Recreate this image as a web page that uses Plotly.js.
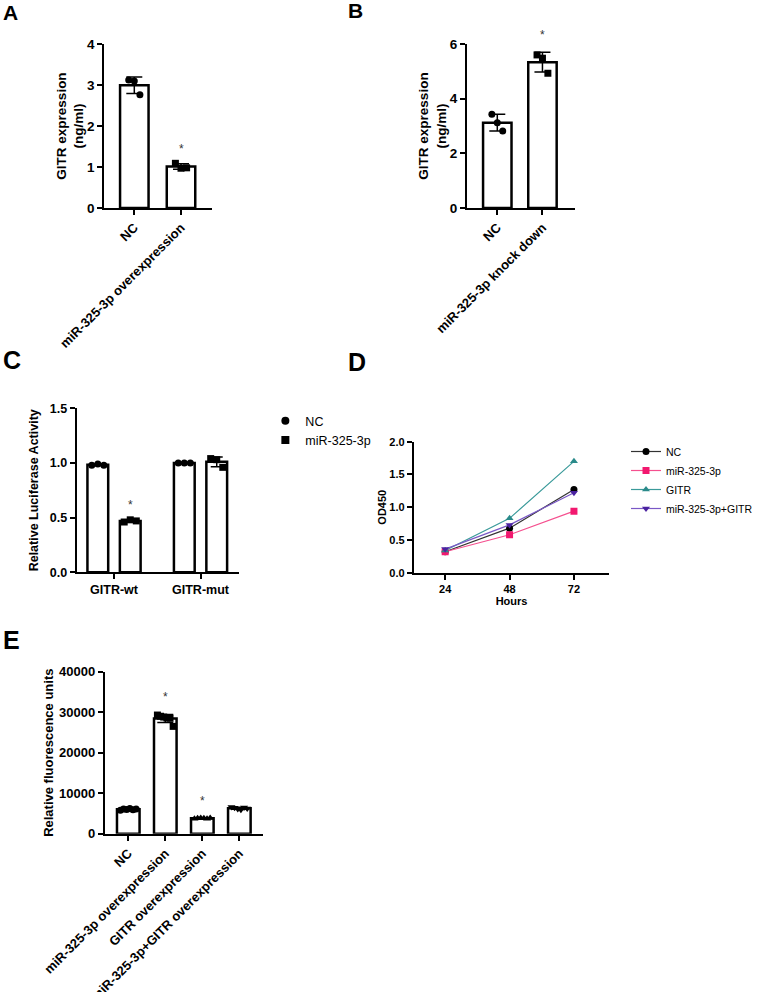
<!DOCTYPE html>
<html>
<head>
<meta charset="utf-8">
<script src="https://cdn.plot.ly/plotly-3.0.1.min.js"></script>
<style>html,body{margin:0;padding:0;background:#fff;}#chart{width:758px;height:992px;}</style>
</head>
<body>
<div id="chart"></div>
<script>
// ---------------- DATA ----------------
// Panel A
const catA = ['NC', 'miR-325-3p overexpression'];
const ptsA_NC = [3.12, 3.10, 2.76];
const ptsA_OE = [1.09, 0.97, 0.98];
const sigA = [false, true];
// Panel B
const catB = ['NC', 'miR-325-3p knock down'];
const ptsB_NC = [3.43, 3.12, 2.82];
const ptsB_KD = [5.60, 5.48, 4.93];
const sigB = [false, true];
// Panel C
const catC = ['GITR-wt', 'GITR-mut'];
const seriesC = ['NC', 'miR-325-3p'];
const ptsC_NC = [[0.98, 0.99, 0.98], [1.00, 1.00, 1.00]];
const ptsC_miR = [[0.46, 0.48, 0.47], [1.04, 1.03, 0.96]];
const sigC_miR = [true, false];
// Panel D
const hours = [24, 48, 72];
const seriesD = ['NC', 'miR-325-3p', 'GITR', 'miR-325-3p+GITR'];
const odNC = [0.32, 0.68, 1.27];
const odMiR = [0.32, 0.58, 0.94];
const odGITR = [0.34, 0.83, 1.70];
const odCombo = [0.36, 0.73, 1.22];
// Panel E
const catE = ['NC', 'miR-325-3p overexpression', 'GITR overexpression', 'miR-325-3p+GITR overexpression'];
const ptsE_NC = [5800, 6100, 6000, 6200, 5900, 6100];
const ptsE_miR = [29300, 29000, 28800, 28600, 28500, 26500];
const ptsE_GITR = [3700, 3800, 3900, 3800, 3700, 3900];
const ptsE_combo = [6600, 6400, 6100, 5900, 6500, 6200];
const sigE = [false, true, true, false];

// ---------------- HELPERS ----------------
const FONT = 'Liberation Sans, Arial, Helvetica, sans-serif';
const mean = a => a.reduce((s, v) => s + v, 0) / a.length;
const sd = a => { const m = mean(a); return Math.sqrt(a.reduce((s, v) => s + (v - m) * (v - m), 0) / (a.length - 1)); };
const W = 758, H = 992;
const fx = p => p / W;
const fy = p => 1 - p / H;

const traces = [];
const annotations = [];

function axisBase(size) {
  return {
    showline: true, linecolor: '#000', linewidth: 2,
    ticks: 'outside', ticklen: 5, tickwidth: 2, tickcolor: '#000',
    showgrid: false, zeroline: false, automargin: false, fixedrange: true,
    tickfont: {family: FONT, size: size, color: '#000', weight: 'bold'}
  };
}

// bars with points, one bar per position
function barGroup(xa, ya, positions, groups, symbols, barW, spread, msize, capw, sig, starShift, starSize) {
  const means = groups.map(mean), sds = groups.map(sd);
  traces.push({
    type: 'bar', x: positions, y: means, width: barW, xaxis: xa, yaxis: ya,
    marker: {color: '#fff', line: {color: '#000', width: 2.5}},
    error_y: {type: 'data', array: sds, visible: true, color: '#000', thickness: 1.5, width: capw},
    showlegend: false, hoverinfo: 'skip'
  });
  groups.forEach((g, i) => {
    traces.push({
      type: 'scatter', mode: 'markers', xaxis: xa, yaxis: ya,
      x: g.map((_, j) => positions[i] + (j - (g.length - 1) / 2) * spread), y: g,
      marker: {symbol: symbols[i], size: msize, color: '#000'},
      showlegend: false, hoverinfo: 'skip', cliponaxis: false
    });
    if (sig[i]) {
      annotations.push({xref: xa, yref: ya, x: positions[i], y: means[i] + sds[i], yanchor: 'bottom',
        yshift: starShift, text: '*', showarrow: false, font: {family: FONT, size: starSize, color: '#333'}});
    }
  });
}

// ---------------- PANEL A ----------------
barGroup('x', 'y', [0, 1], [ptsA_NC, ptsA_OE], ['circle', 'square'], 0.61, 0.12, 7, 8, sigA, 6, 12);
// ---------------- PANEL B ----------------
barGroup('x2', 'y2', [0, 1], [ptsB_NC, ptsB_KD], ['circle', 'square'], 0.63, 0.12, 7, 8, sigB, 8, 12);
// ---------------- PANEL C ----------------
const cOff = 0.1875;
barGroup('x3', 'y3', catC.map((_, i) => i - cOff), ptsC_NC, ['circle', 'circle'], 0.24, 0.07, 7, 6, [false, false], 6, 12);
barGroup('x3', 'y3', catC.map((_, i) => i + cOff), ptsC_miR, ['square', 'square'], 0.24, 0.07, 7, 6, sigC_miR, 6, 12);
// legend entries for C
[['circle', seriesC[0]], ['square', seriesC[1]]].forEach(([sym, name]) => {
  traces.push({type: 'scatter', mode: 'markers', x: [null], y: [null], xaxis: 'x3', yaxis: 'y3', name: name,
    marker: {symbol: sym, size: 8, color: '#000'}, legend: 'legend', showlegend: true, hoverinfo: 'skip'});
});
// ---------------- PANEL D ----------------
const dSeries = [
  {name: seriesD[0], y: odNC, sym: 'circle', mc: '#000000', lc: '#333333'},
  {name: seriesD[1], y: odMiR, sym: 'square', mc: '#f2186f', lc: '#f5508f'},
  {name: seriesD[2], y: odGITR, sym: 'triangle-up', mc: '#2a8a8a', lc: '#3a9a9a'},
  {name: seriesD[3], y: odCombo, sym: 'triangle-down', mc: '#4a22a0', lc: '#7a58c6'}
];
dSeries.forEach(s => {
  traces.push({type: 'scatter', mode: 'lines+markers', x: hours, y: s.y, name: s.name,
    xaxis: 'x4', yaxis: 'y4', legend: 'legend2',
    line: {color: s.lc, width: 1.2}, marker: {symbol: s.sym, size: 7, color: s.mc},
    hoverinfo: 'skip'});
});
// ---------------- PANEL E ----------------
barGroup('x5', 'y5', [0, 1, 2, 3], [ptsE_NC, ptsE_miR, ptsE_GITR, ptsE_combo],
  ['circle', 'square', 'triangle-up', 'triangle-down'], 0.61, 0.085, 7, 8, sigE, 8, 12);

// ---------------- LAYOUT ----------------
const titleFont = s => ({family: FONT, size: s, color: '#000', weight: 'bold'});
const layout = {
  width: W, height: H, margin: {l: 0, r: 0, t: 0, b: 0},
  paper_bgcolor: '#fff', plot_bgcolor: 'rgba(0,0,0,0)',
  barmode: 'overlay', font: {family: FONT, color: '#000'},
  // A
  xaxis: Object.assign(axisBase(13), {domain: [fx(106), fx(216)], range: [-0.645, 1.67], anchor: 'y',
    tickvals: [0, 1], ticktext: catA, tickangle: -45}),
  yaxis: Object.assign(axisBase(13.5), {domain: [fy(208), fy(44)], range: [0, 4], dtick: 1, anchor: 'x',
    title: {text: 'GITR expression<br>(ng/ml)', font: titleFont(13.5), standoff: 0}}),
  // B
  xaxis2: Object.assign(axisBase(13), {domain: [fx(475), fx(585)], range: [-0.674, 1.72], anchor: 'y2',
    tickvals: [0, 1], ticktext: catB, tickangle: -45}),
  yaxis2: Object.assign(axisBase(13.5), {domain: [fy(208), fy(44)], range: [0, 6], dtick: 2, anchor: 'x2',
    title: {text: 'GITR expression<br>(ng/ml)', font: titleFont(13.5), standoff: 0}}),
  // C
  xaxis3: Object.assign(axisBase(12.5), {domain: [fx(78), fx(243)], range: [-0.432, 1.443], anchor: 'y3',
    tickvals: [0, 1], ticktext: catC, tickangle: 0}),
  yaxis3: Object.assign(axisBase(12.5), {domain: [fy(572.3), fy(408.3)], range: [0, 1.5], dtick: 0.5, tickformat: '.1f', anchor: 'x3',
    title: {text: 'Relative Luciferase Activity', font: titleFont(12.5), standoff: 8}}),
  // D
  xaxis4: Object.assign(axisBase(11), {domain: [fx(421), fx(620)], range: [12.3, 85.2], anchor: 'y4',
    tickvals: hours, title: {text: 'Hours', font: titleFont(11), standoff: 0}}),
  yaxis4: Object.assign(axisBase(11), {domain: [fy(572.7), fy(441.7)], range: [0, 2], dtick: 0.5, tickformat: '.1f', anchor: 'x4',
    title: {text: 'OD450', font: titleFont(11), standoff: 0}}),
  // E
  xaxis5: Object.assign(axisBase(13), {domain: [fx(106.7), fx(268)], range: [-0.632, 3.65], anchor: 'y5',
    tickvals: [0, 1, 2, 3], ticktext: catE, tickangle: -45}),
  yaxis5: Object.assign(axisBase(13), {domain: [fy(833.7), fy(671.7)], range: [0, 40000], dtick: 10000, tickformat: 'd', anchor: 'x5',
    title: {text: 'Relative fluorescence units', font: titleFont(13), standoff: 3}}),
  legend: {x: fx(270), y: fy(406), xanchor: 'left', yanchor: 'top', bgcolor: 'rgba(0,0,0,0)',
    font: {family: FONT, size: 12.5, color: '#000'}, tracegroupgap: 0},
  legend2: {x: fx(637), y: fy(437), xanchor: 'left', yanchor: 'top', bgcolor: 'rgba(0,0,0,0)',
    font: {family: FONT, size: 10.5, color: '#000'}, tracegroupgap: 0},
  annotations: annotations.concat([
    {text: 'A', x: fx(1), y: fy(-1), xanchor: 'left', yanchor: 'top'},
    {text: 'B', x: fx(352), y: fy(-3), xanchor: 'left', yanchor: 'top'},
    {text: 'C', x: fx(1), y: fy(344), xanchor: 'left', yanchor: 'top', big: true},
    {text: 'D', x: fx(352), y: fy(346), xanchor: 'left', yanchor: 'top', big: true},
    {text: 'E', x: fx(1), y: fy(624), xanchor: 'left', yanchor: 'top', big: true}
  ].map(a => ({text: a.text, x: a.x, y: a.y, xref: 'paper', yref: 'paper', xanchor: a.xanchor, yanchor: a.yanchor,
    showarrow: false, font: {family: FONT, size: a.big ? 25 : 21, color: '#000', weight: 'bold'}})))
};

Plotly.newPlot('chart', traces, layout, {staticPlot: true, displayModeBar: false});
</script>
</body>
</html>
